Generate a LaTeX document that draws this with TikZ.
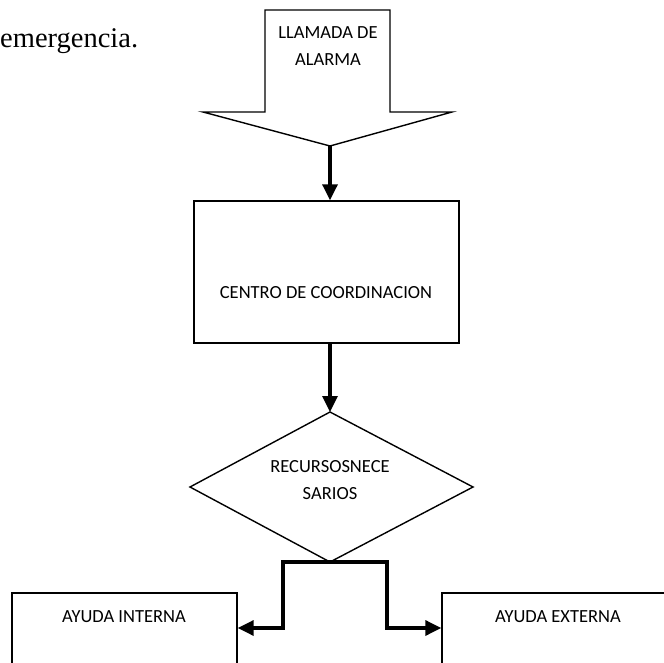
\documentclass[tikz,border=0pt]{standalone}
\usepackage{fontspec}
\setmainfont{Liberation Serif}
\newfontfamily\lblfont{Carlito}
\usetikzlibrary{arrows.meta}
\begin{document}
\begin{tikzpicture}[x=1pt,y=-1pt,
  outline/.style={draw=black,line width=1.4pt,line join=miter},
  lbl/.style={font=\lblfont\fontsize{18.5}{27}\selectfont,align=center,inner sep=0pt},
  conn/.style={draw=black,line width=3.3pt,-{Triangle[length=16pt,width=15pt]}}]
\useasboundingbox (0,0) rectangle (664,663);
\clip (0,0) rectangle (664,663);

% paragraph text above the chart
\node[anchor=base west,inner sep=0pt,font=\fontsize{28.5}{32}\selectfont] (para) at (0,48) {emergencia.};

% incoming call: block arrow pointing down
\coordinate (tip) at (330,146);
\draw[outline,fill=white] (265,10) -- (390,10) -- (390,112) -- (452,112) -- (tip)
  -- (203,112) -- (265,112) -- cycle;
\node[lbl] (call) at (328,46) {LLAMADA DE\\ALARMA};

% coordination centre
\node[outline,minimum width=265pt,minimum height=142pt,inner sep=0pt] (cc) at (326.5,272) {};
\node[lbl] (cctext) at (326,293) {CENTRO DE COORDINACION};

% decision
\coordinate (dT) at (330,412);
\coordinate (dL) at (190,487);
\coordinate (dR) at (473,487);
\coordinate (dB) at (330,562);
\draw[outline] (dT) -- (dR) -- (dB) -- (dL) -- cycle;
\node[lbl] (dec) at (330,480) {RECURSOSNECE\\SARIOS};

% outcomes
\node[outline,minimum width=225pt,minimum height=107pt,inner sep=0pt] (ibox) at (124.5,646.5) {};
\node[lbl] (itext) at (124,617) {AYUDA INTERNA};
\node[outline,minimum width=260pt,minimum height=107pt,inner sep=0pt] (ebox) at (572,646.5) {};
\node[lbl] (etext) at (558,617) {AYUDA EXTERNA};

% connectors
\draw[conn] (tip) -- (tip |- cc.north);
\draw[conn] (dT |- cc.south) -- (dT);
\coordinate (jl) at (283,628);
\coordinate (jr) at (387,628);
\draw[conn,line join=miter] (dB) -| (jl) -- (jl -| ibox.east);
\draw[conn,line join=miter] (dB) -| (jr) -- (jr -| ebox.west);
\end{tikzpicture}
\end{document}
